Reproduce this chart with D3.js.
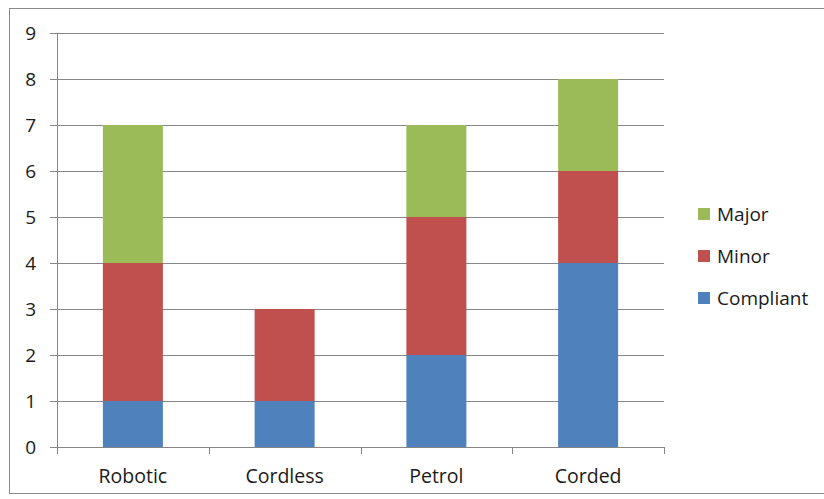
<!DOCTYPE html>
<html>
<head>
<meta charset="utf-8">
<script src="https://cdn.jsdelivr.net/npm/d3@7"></script>
<style>
  html, body { margin: 0; padding: 0; background: #fff; }
  svg { display: block; }
  text { font-family: "Open Sans", "Noto Sans", sans-serif; fill: #1a1a1a; }
</style>
</head>
<body>
<svg id="chart" width="824" height="499"></svg>
<script>
// Inspection results per mower type
const categories = ["Robotic", "Cordless", "Petrol", "Corded"];
const seriesNames = ["Compliant", "Minor", "Major"];
const compliant = [1, 1, 2, 4];
const minor = [3, 2, 3, 2];
const major = [3, 0, 2, 2];
const yTicks = [0, 1, 2, 3, 4, 5, 6, 7, 8, 9];
const colors = ["#4F81BD", "#C0504D", "#9BBB59"];

const rows = categories.map((c, i) => ({
  category: c, Compliant: compliant[i], Minor: minor[i], Major: major[i]
}));

const svg = d3.select("#chart");
const plot = { left: 57, right: 664, top: 33, bottom: 447 };

// outer chart frame
svg.append("rect")
  .attr("x", 9.5).attr("y", 8.5)
  .attr("width", 840).attr("height", 485)
  .attr("fill", "#fff")
  .attr("stroke", "#8a8a8a").attr("stroke-width", 1);

const x = d3.scaleBand()
  .domain(categories)
  .range([plot.left, plot.right])
  .paddingInner(0.6046)
  .paddingOuter(0.3023);

const y = d3.scaleLinear().domain([0, 9]).range([plot.bottom, plot.top]);

// horizontal gridlines with outside tick marks
const yAxis = d3.axisLeft(y).tickValues(yTicks).tickFormat(d3.format("d"))
  .tickSize(-(plot.right - plot.left)).tickSizeOuter(0).tickPadding(21);
const gy = svg.append("g").attr("transform", `translate(${plot.left},0)`).call(yAxis);
gy.select(".domain").remove();
gy.selectAll(".tick line")
  .attr("x1", -7)
  .attr("x2", plot.right - plot.left)
  .attr("stroke", "#868686").attr("shape-rendering", "crispEdges");
gy.selectAll(".tick text")
  .attr("font-size", 19).attr("font-family", "Open Sans, Noto Sans, sans-serif")
  .attr("fill", "#1a1a1a").attr("dy", "0.34em");

// stacked columns
const stack = d3.stack().keys(seriesNames);
const layers = stack(rows);
svg.append("g").selectAll("g")
  .data(layers)
  .join("g")
  .attr("fill", (d, i) => colors[i])
  .selectAll("rect")
  .data(d => d)
  .join("rect")
  .attr("x", d => x(d.data.category))
  .attr("width", x.bandwidth())
  .attr("y", d => y(d[1]))
  .attr("height", d => y(d[0]) - y(d[1]));

// vertical axis line
svg.append("line")
  .attr("x1", plot.left + 0.5).attr("x2", plot.left + 0.5)
  .attr("y1", plot.top).attr("y2", plot.bottom + 6)
  .attr("stroke", "#868686");

// category axis with boundary tick marks
const step = x.step();
const boundaries = d3.range(categories.length + 1).map(i => plot.left + i * step);
svg.append("line")
  .attr("x1", plot.left).attr("x2", plot.right)
  .attr("y1", plot.bottom + 0.5).attr("y2", plot.bottom + 0.5)
  .attr("stroke", "#868686");
svg.append("g").selectAll("line")
  .data(boundaries)
  .join("line")
  .attr("x1", d => Math.round(d) + 0.5).attr("x2", d => Math.round(d) + 0.5)
  .attr("y1", plot.bottom).attr("y2", plot.bottom + 7)
  .attr("stroke", "#868686");

svg.append("g").selectAll("text")
  .data(categories)
  .join("text")
  .attr("x", d => x(d) + x.bandwidth() / 2)
  .attr("y", 483)
  .attr("text-anchor", "middle")
  .attr("font-size", 19.5)
  .text(d => d);

// legend (top entry is the top of the stack)
const legendItems = seriesNames.map((n, i) => ({ name: n, color: colors[i] })).reverse();
const legend = svg.append("g").selectAll("g")
  .data(legendItems)
  .join("g")
  .attr("transform", (d, i) => `translate(698, ${214 + i * 42})`);
legend.append("rect")
  .attr("x", 0).attr("y", -6)
  .attr("width", 12).attr("height", 12)
  .attr("fill", d => d.color);
legend.append("text")
  .attr("x", 19).attr("y", 0)
  .attr("dy", "0.35em")
  .attr("font-size", 19)
  .text(d => d.name);
</script>
</body>
</html>
